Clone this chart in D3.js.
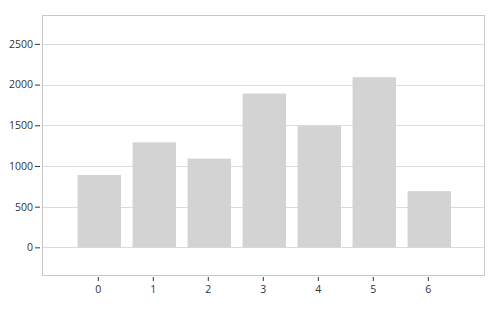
<!DOCTYPE html>
<html>
<head>
<meta charset="utf-8">
<script src="https://cdn.jsdelivr.net/npm/d3@7"></script>
<style>
  body { margin: 0; background: #fff; }
  text { font-family: "Open Sans", "Noto Sans", sans-serif; }
</style>
</head>
<body>
<div id="chart"></div>
<script>
// Data
const categories = [0, 1, 2, 3, 4, 5, 6];
const values = [890, 1290, 1090, 1890, 1490, 2090, 690];
const yTicks = [0, 500, 1000, 1500, 2000, 2500];

const width = 500;
const height = 318;
const margin = { top: 15, right: 16, bottom: 43, left: 42 };

const svg = d3.select("#chart")
  .append("svg")
  .attr("width", width)
  .attr("height", height);

// Scales (bars sit a touch right of their tick marks in the reference)
const xScale = d3.scaleLinear()
  .domain([-1, 7])
  .range([44.3, 484.3]);
const yScale = d3.scaleLinear()
  .domain([-340, 2855])
  .range([height - margin.bottom, margin.top]);

const barWidth = (xScale(1) - xScale(0)) * 0.79;

// Gridlines
svg.append("g")
  .selectAll("line")
  .data(yTicks)
  .enter()
  .append("line")
    .attr("x1", margin.left)
    .attr("x2", width - margin.right)
    .attr("y1", d => Math.round(yScale(d)) + 0.5)
    .attr("y2", d => Math.round(yScale(d)) + 0.5)
    .attr("stroke", "#dcdcdc")
    .attr("stroke-width", 1);

// Bars
svg.append("g")
  .selectAll("rect")
  .data(categories)
  .enter()
  .append("rect")
    .attr("x", d => xScale(d) - barWidth / 2)
    .attr("y", (d, i) => yScale(values[i]))
    .attr("width", barWidth)
    .attr("height", (d, i) => yScale(0) - yScale(values[i]))
    .attr("fill", "#d3d3d3");

// Frame
svg.append("rect")
  .attr("x", margin.left + 0.5)
  .attr("y", margin.top + 0.5)
  .attr("width", width - margin.left - margin.right)
  .attr("height", height - margin.top - margin.bottom)
  .attr("fill", "none")
  .attr("stroke", "#c8c8c8");

// Y axis
const yAxis = svg.append("g")
  .attr("transform", `translate(${margin.left - 2},0)`)
  .call(d3.axisLeft(yScale).tickValues(yTicks).tickFormat(d3.format("d")).tickSize(5).tickSizeOuter(0));
yAxis.select(".domain").remove();
yAxis.selectAll(".tick line").attr("stroke", "#333");
yAxis.selectAll(".tick text")
  .attr("x", -7)
  .attr("fill", "#333")
  .style("font-size", "10.5px");

// X axis
const xAxis = svg.append("g")
  .attr("transform", `translate(-1.5,${height - margin.bottom + 2})`)
  .call(d3.axisBottom(xScale).tickValues(categories).tickSize(4).tickSizeOuter(0));
xAxis.select(".domain").remove();
xAxis.selectAll(".tick line").attr("stroke", "#333");
xAxis.selectAll(".tick text")
  .attr("y", 9)
  .attr("fill", "#333")
  .style("font-size", "10.5px");
</script>
</body>
</html>
